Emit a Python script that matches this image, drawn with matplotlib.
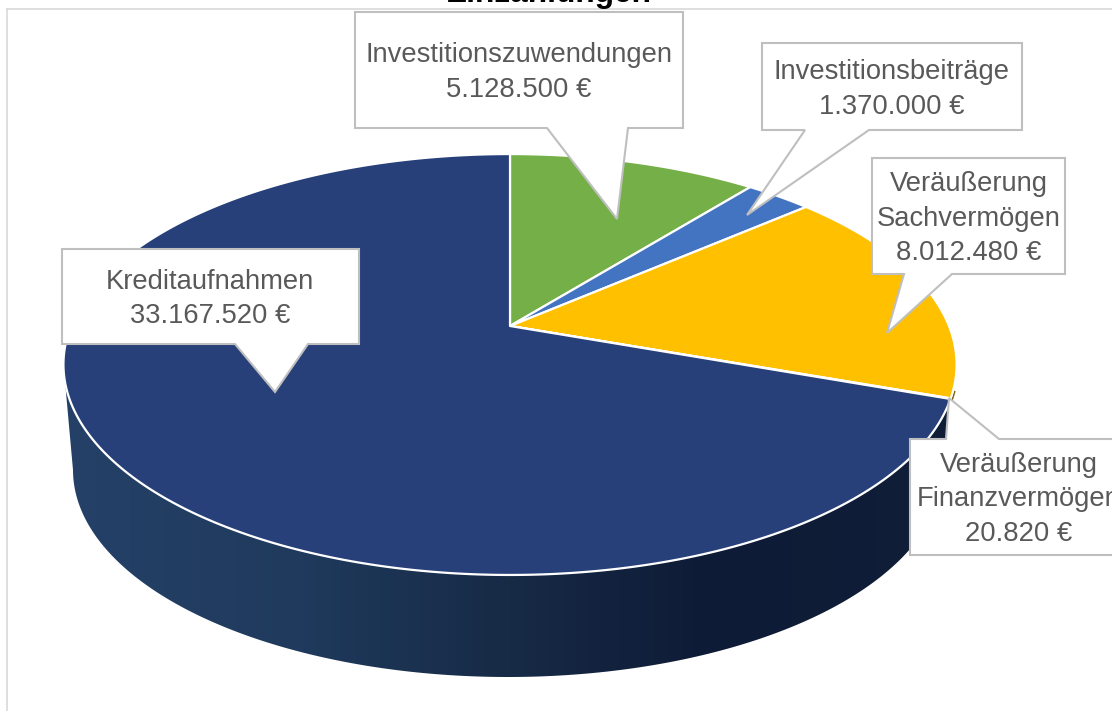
import numpy as np
import matplotlib
matplotlib.use("Agg")
import matplotlib.pyplot as plt
from matplotlib.colors import LinearSegmentedColormap
from matplotlib.patches import Polygon

categories = ["Investitionszuwendungen", "Investitionsbeiträge", "Veräußerung\nSachvermögen",
              "Veräußerung\nFinanzvermögen", "Kreditaufnahmen"]
values = [5128500, 1370000, 8012480, 20820, 33167520]
colors = ["#74AF47", "#4374C2", "#FFC000", "#A5A5A5", "#274079"]

plt.rcParams["font.family"] = ["Liberation Sans", "DejaVu Sans"]

# perspective of the pie top, all in pixels of the picture
CX, CY = 510, 326
KX, KY, PERSP = 439, 203.4, 0.183
# lower rim of the side wall
LOW_X, LOW_Y, LOW_A, LOW_B = 508, 470, 435, 207


def rim(t):
    # t in degrees, clockwise from 12 o'clock
    a = np.radians(t)
    d = 1 + PERSP * np.cos(a)
    return CX + KX * np.sin(a) / d, CY - KY * np.cos(a) / d


def wedge(t1, t2):
    t = np.linspace(t1, t2, max(int(t2 - t1) * 2, 2))
    x, y = rim(t)
    return np.column_stack([np.r_[CX, x], np.r_[CY, y]])


# box left, right, top, bottom, then tail base left, tip x, tip y, tail base right, text x, text y
callouts = [
    (355, 683, 12, 128, 547, 617, 219, 628, 519, 72.5),
    (762, 1022, 43, 130, 805, 747, 215, 869, 892, 89.5),
    (872, 1065, 158, 274, 904, 887, 333, 952, 969, 218.5),
    (910, 1130, 439, 555, 946, 949, 398, 999, 1019, 499.5),
    (62, 359, 249, 344, 235, 275, 392, 308, 210, 299),
]

fig = plt.figure(figsize=(11.12, 7.11), dpi=100)
ax = fig.add_axes([0, 0, 1, 1])

# chart frame
ax.plot([7, 7], [9, 711], color="#D9D9D9", lw=1.2, zorder=1)
ax.plot([7, 1112], [9, 9], color="#D9D9D9", lw=1.2, zorder=1)

ax.text(549, 2, "Einzahlungen", fontsize=22.8, fontweight="bold", color="black",
        ha="center", va="baseline", zorder=1)

# side wall with gradient
lt = np.radians(np.linspace(270, 90, 200))
low_x = LOW_X + LOW_A * np.sin(lt)
low_y = LOW_Y - LOW_B * np.cos(lt)
x1, y1 = rim(259.5)
x2, y2 = rim(109.7)
side = Polygon(np.column_stack([np.r_[x1, low_x, x2], np.r_[y1, low_y, y2]]),
               closed=True, transform=ax.transData, fc="none", ec="none")
ax.add_patch(side)
cmap = LinearSegmentedColormap.from_list("side", [(0, "#254168"), (0.27, "#1F3A5C"), (0.5, "#172A46"),
                                                  (0.72, "#0E1B36"), (1, "#101E38")])
im = ax.imshow(np.linspace(0, 1, 256).reshape(1, -1), extent=(60, 960, 711, 300), cmap=cmap,
               aspect="auto", zorder=2)
im.set_clip_path(side)

# small bit of the gold side at the right rim
sx, sy = rim(np.linspace(107.5, 109.5, 6))
ax.plot(sx + 1.5, sy + 1, color="#7F6000", lw=1.2, zorder=2)

# top of the pie
total = sum(values)
start = 0
for v, c in zip(values, colors):
    end = start + v / total * 360
    ax.add_patch(Polygon(wedge(start, end), closed=True, fc=c, ec="white", lw=1.6, zorder=3,
                         joinstyle="round"))
    start = end

# data labels
for cat, v, box in zip(categories, values, callouts):
    l, r, t, b, b1, tx, ty, b2, lx, ly = box
    pts = [(l, t), (r, t), (r, b), (b2, b), (tx, ty), (b1, b), (l, b)]
    if ty < t:
        pts = [(l, t), (b1, t), (tx, ty), (b2, t), (r, t), (r, b), (l, b)]
    ax.add_patch(Polygon(pts, closed=True, fc="white", ec="#BFBFBF", lw=1.5, zorder=4))
    label = cat + "\n" + f"{v:,}".replace(",", ".") + " €"
    ax.text(lx, ly, label, fontsize=19.7, color="#595959", ha="center", va="center",
            linespacing=1.43, zorder=5)

ax.set_xlim(0, 1112)
ax.set_ylim(711, 0)
ax.axis("off")
fig.savefig("out.png", dpi=100, facecolor="white")
